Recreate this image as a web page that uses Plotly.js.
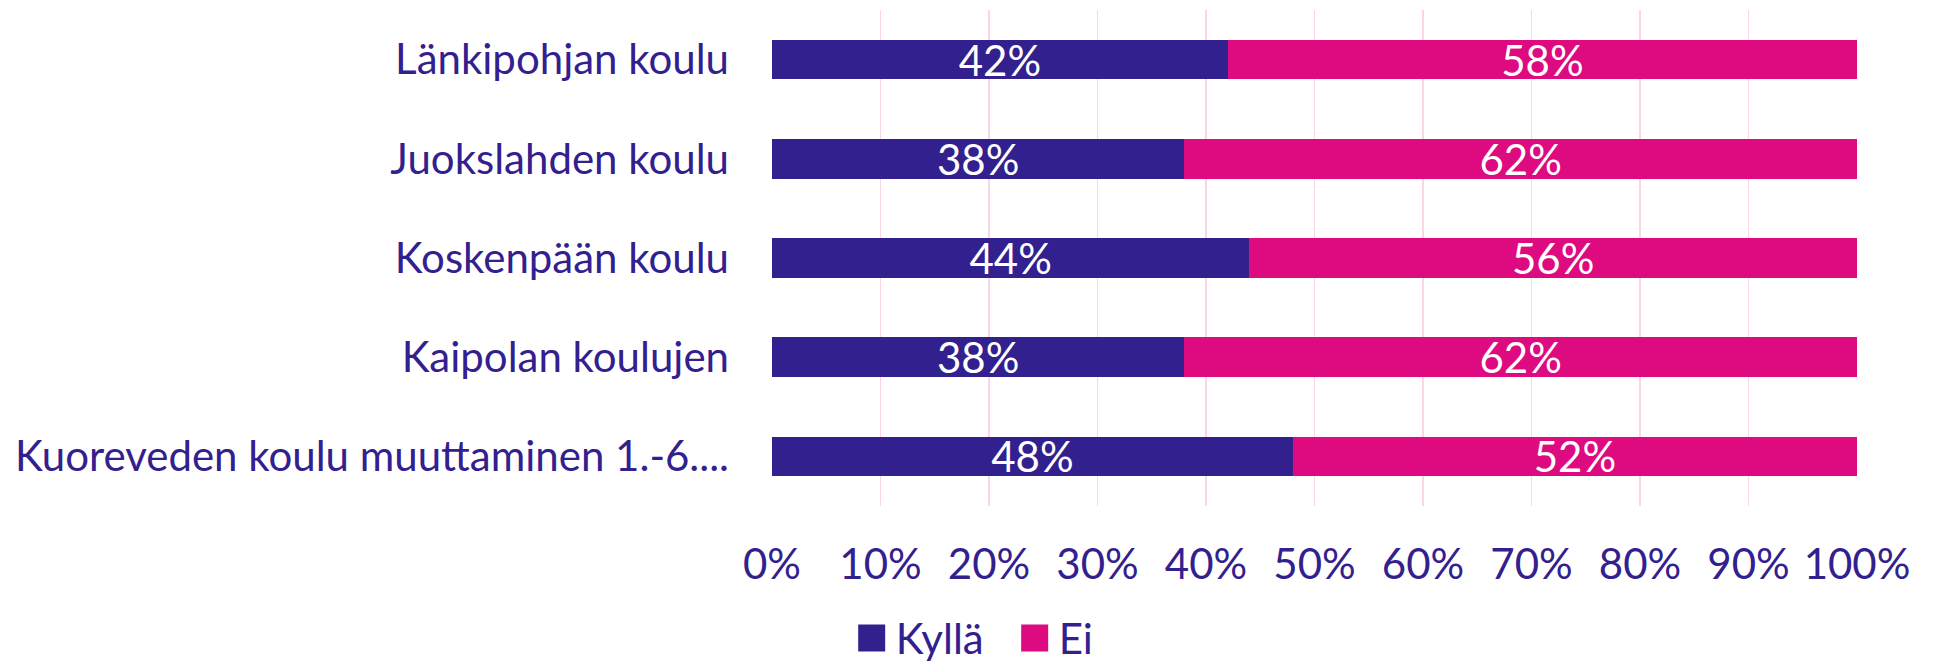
<!DOCTYPE html>
<html>
<head>
<meta charset="utf-8">
<script src="https://cdn.plot.ly/plotly-3.0.1.min.js"></script>
<style>html,body{margin:0;padding:0;background:#fff;}#chart{width:1933px;height:664px;}</style>
</head>
<body>
<div id="chart"></div>
<script>
const categories = ["Länkipohjan koulu", "Juokslahden koulu", "Koskenpään koulu", "Kaipolan koulujen", "Kuoreveden koulu muuttaminen 1.-6...."];
const kyllaValues = [42, 38, 44, 38, 48];
const eiValues = [58, 62, 56, 62, 52];
const seriesNames = ["Kyllä", "Ei"];
const xTickValues = [0, 10, 20, 30, 40, 50, 60, 70, 80, 90, 100];
const xTickLabels = ["0%", "10%", "20%", "30%", "40%", "50%", "60%", "70%", "80%", "90%", "100%"];

const PURPLE = "#33208F";
const MAGENTA = "#DD0A80";
const FONT = "Lato, 'Open Sans', sans-serif";
const FS = 42;

function pct(arr) { return arr.map(function(v){ return v + "%"; }); }

const common = {
  type: "bar",
  orientation: "h",
  y: categories,
  texttemplate: "%{text}",
  textposition: "inside",
  insidetextanchor: "middle",
  constraintext: "none",
  textfont: {family: FONT, size: FS, color: "#ffffff"},
  hoverinfo: "skip"
};

const traces = [
  Object.assign({}, common, {name: seriesNames[0], x: kyllaValues, text: pct(kyllaValues), marker: {color: PURPLE, line: {width: 0}}}),
  Object.assign({}, common, {name: seriesNames[1], x: eiValues, text: pct(eiValues), marker: {color: MAGENTA, line: {width: 0}}})
];

const layout = {
  width: 1933,
  height: 664,
  barmode: "stack",
  bargap: 0.6,
  paper_bgcolor: "#ffffff",
  plot_bgcolor: "#ffffff",
  font: {family: FONT, size: FS, color: PURPLE},
  margin: {l: 772, r: 76, t: 10, b: 158},
  xaxis: {
    range: [0, 100],
    tickmode: "array",
    tickvals: xTickValues,
    ticktext: xTickLabels,
    showgrid: true,
    gridcolor: "#FBD6EA",
    gridwidth: 1.5,
    zeroline: false,
    showline: false,
    ticks: "",
    ticklabelstandoff: 30,
    tickfont: {family: FONT, size: FS, color: PURPLE},
    fixedrange: true
  },
  yaxis: {
    autorange: "reversed",
    showgrid: false,
    zeroline: false,
    showline: false,
    ticks: "",
    ticklabelstandoff: 42,
    tickfont: {family: FONT, size: FS, color: PURPLE},
    fixedrange: true
  },
  showlegend: true,
  legend: {
    orientation: "h",
    xref: "container",
    yref: "container",
    x: 0.527,
    xanchor: "center",
    y: 0.039,
    yanchor: "middle",
    font: {family: FONT, size: FS, color: PURPLE},
    entrywidth: 118,
    entrywidthmode: "pixels",
    traceorder: "normal"
  }
};

Plotly.newPlot("chart", traces, layout, {displayModeBar: false, staticPlot: true}).then(function(gd){
  gd.querySelectorAll(".legend .legendpoints path").forEach(function(p){
    p.setAttribute("transform", "translate(16,0) scale(2.25)");
  });
});
</script>
</body>
</html>
